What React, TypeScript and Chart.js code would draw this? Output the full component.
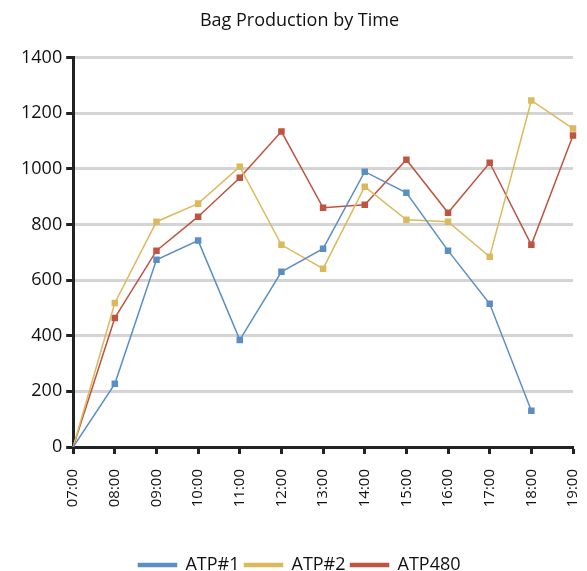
import React, { useEffect, useRef } from "react";
import { Chart, registerables } from "chart.js";

Chart.register(...registerables);

const categories = ["07:00", "08:00", "09:00", "10:00", "11:00", "12:00", "13:00", "14:00", "15:00", "16:00", "17:00", "18:00", "19:00"];
const atp1 = [0, 227, 673, 742, 385, 630, 713, 990, 914, 706, 515, 130, null];
const atp2 = [0, 518, 810, 875, 1008, 727, 641, 936, 817, 810, 684, 1246, 1145];
const atp480 = [0, 464, 706, 828, 968, 1134, 860, 871, 1033, 842, 1022, 727, 1120];
const seriesNames = ["ATP#1", "ATP#2", "ATP480"];
const seriesColors = ["#5b8fc3", "#dcb95d", "#bf5440"];
const titleText = "Bag Production by Time";

const FONT = "'Open Sans', sans-serif";

const legendShift = {
  id: "legendShift",
  afterLayout(chart: any) {
    if (chart.legend) {
      chart.legend.top += 13;
      chart.legend.bottom += 13;
    }
  },
};

export default function App() {
  const ref = useRef<HTMLCanvasElement>(null);
  useEffect(() => {
    if (!ref.current) return;
    const values = [atp1, atp2, atp480];
    const chart = new Chart(ref.current, {
      type: "line",
      data: {
        labels: categories,
        datasets: values.map((v, i) => ({
          label: seriesNames[i],
          data: v,
          borderColor: seriesColors[i],
          backgroundColor: seriesColors[i],
          borderWidth: 1.5,
          pointStyle: "rect",
          pointRadius: (c: any) => (c.dataIndex === 0 ? 0 : 4.6),
          pointBorderWidth: 0,
          tension: 0,
          spanGaps: false,
        })),
      },
      plugins: [legendShift],
      options: {
        animation: false,
        responsive: false,
        layout: { padding: { left: 17, right: 5, top: 4, bottom: 0 } },
        plugins: {
          title: {
            display: true,
            text: titleText,
            color: "#111",
            font: { family: FONT, size: 18, weight: "normal" },
            padding: { top: 6, bottom: 26 },
          },
          legend: {
            position: "bottom",
            labels: {
              color: "#111",
              font: { family: FONT, size: 18 },
              boxWidth: 38,
              boxHeight: 3,
              padding: 5,
            },
          },
          tooltip: { enabled: false },
        },
        scales: {
          x: {
            afterFit: (scale: any) => {
              scale.height = 91;
              scale.paddingRight = 14;
            },
            grid: {
              drawOnChartArea: false,
              tickColor: "#222",
              tickLength: 7,
              tickWidth: 3,
            },
            border: { color: "#222", width: 3 },
            ticks: {
              color: "#111",
              font: { family: FONT, size: 15 },
              minRotation: 90,
              maxRotation: 90,
              padding: 15,
            },
          },
          y: {
            min: 0,
            max: 1400,
            grid: {
              color: "#d4d4d4",
              lineWidth: 3,
              tickColor: "#222",
              tickLength: 7,
              tickWidth: 3,
            },
            border: { color: "#222", width: 3 },
            ticks: {
              stepSize: 200,
              color: "#111",
              font: { family: FONT, size: 18 },
              padding: 4,
              callback: (v: any) => String(v),
            },
          },
        },
      },
    });
    return () => chart.destroy();
  }, []);
  return (
    <div style={{ position: "absolute", left: 0, top: 0, width: 587, height: 571, background: "#fff" }}>
      <canvas ref={ref} width={587} height={571} />
    </div>
  );
}
